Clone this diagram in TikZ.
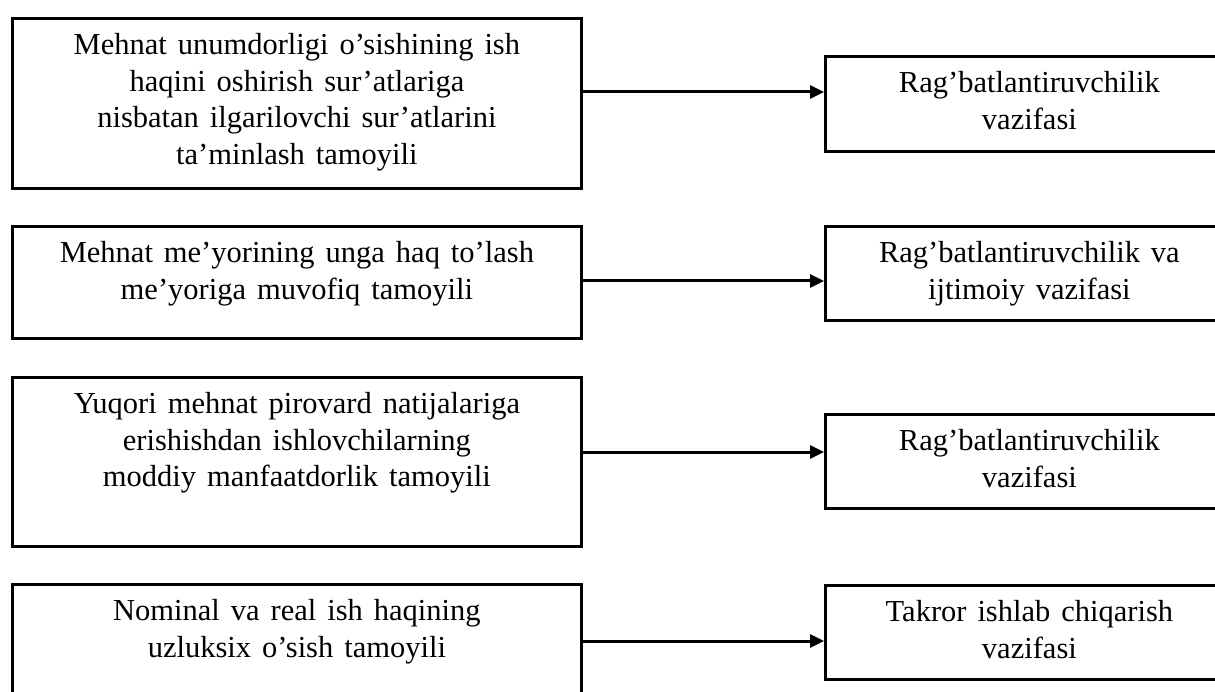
\documentclass[tikz,border=0pt]{standalone}
\usepackage{fontspec}
\setmainfont{Liberation Serif}
\usetikzlibrary{arrows.meta}
\newcommand{\boxtext}[3]{\parbox[c][#1pt][t]{#2pt}{\spaceskip=0.36em plus 0.1em minus 0.05em\centering\vspace*{15pt}#3\par}}
\begin{document}
\begin{tikzpicture}[x=1pt,y=-1pt,
  box/.style={draw,line width=2.8pt,inner sep=0pt,anchor=north west,
    font=\fontsize{30.5}{36.5}\selectfont},
  arr/.style={line width=3pt,-{Triangle[length=14pt,width=13pt]}}]
\useasboundingbox (0,0) rectangle (1215,692);
\begin{scope}
\clip (0,0) rectangle (1215,692);
% left boxes
\node[box] (L1) at (11,17) {\boxtext{170}{569}{Mehnat unumdorligi o’sishining ish\\ haqini oshirish sur’atlariga\\ nisbatan ilgarilovchi sur’atlarini\\ ta’minlash tamoyili}};
\node[box] (L2) at (11,225) {\boxtext{112}{569}{Mehnat me’yorining unga haq to’lash\\ me’yoriga muvofiq tamoyili}};
\node[box] (L3) at (11,376) {\boxtext{169}{569}{Yuqori mehnat pirovard natijalariga\\ erishishdan ishlovchilarning\\ moddiy manfaatdorlik tamoyili}};
\node[box] (L4) at (11,583) {\boxtext{117}{569}{Nominal va real ish haqining\\ uzluksix o’sish tamoyili}};
% right boxes
\node[box] (R1) at (824,55) {\boxtext{95}{408}{Rag’batlantiruvchilik\\ vazifasi}};
\node[box] (R2) at (824,225) {\boxtext{94}{408}{Rag’batlantiruvchilik va\\ ijtimoiy vazifasi}};
\node[box] (R3) at (824,413) {\boxtext{94}{408}{Rag’batlantiruvchilik\\ vazifasi}};
\node[box] (R4) at (824,584) {\boxtext{94}{408}{Takror ishlab chiqarish\\ vazifasi}};
% connectors
\draw[arr] (L1.east |- 0,92) -- (R1.west |- 0,92);
\draw[arr] (L2.east |- 0,281) -- (R2.west |- 0,281);
\draw[arr] (L3.east |- 0,452) -- (R3.west |- 0,452);
\draw[arr] (L4.east |- 0,641) -- (R4.west |- 0,641);
\end{scope}
\end{tikzpicture}
\end{document}
